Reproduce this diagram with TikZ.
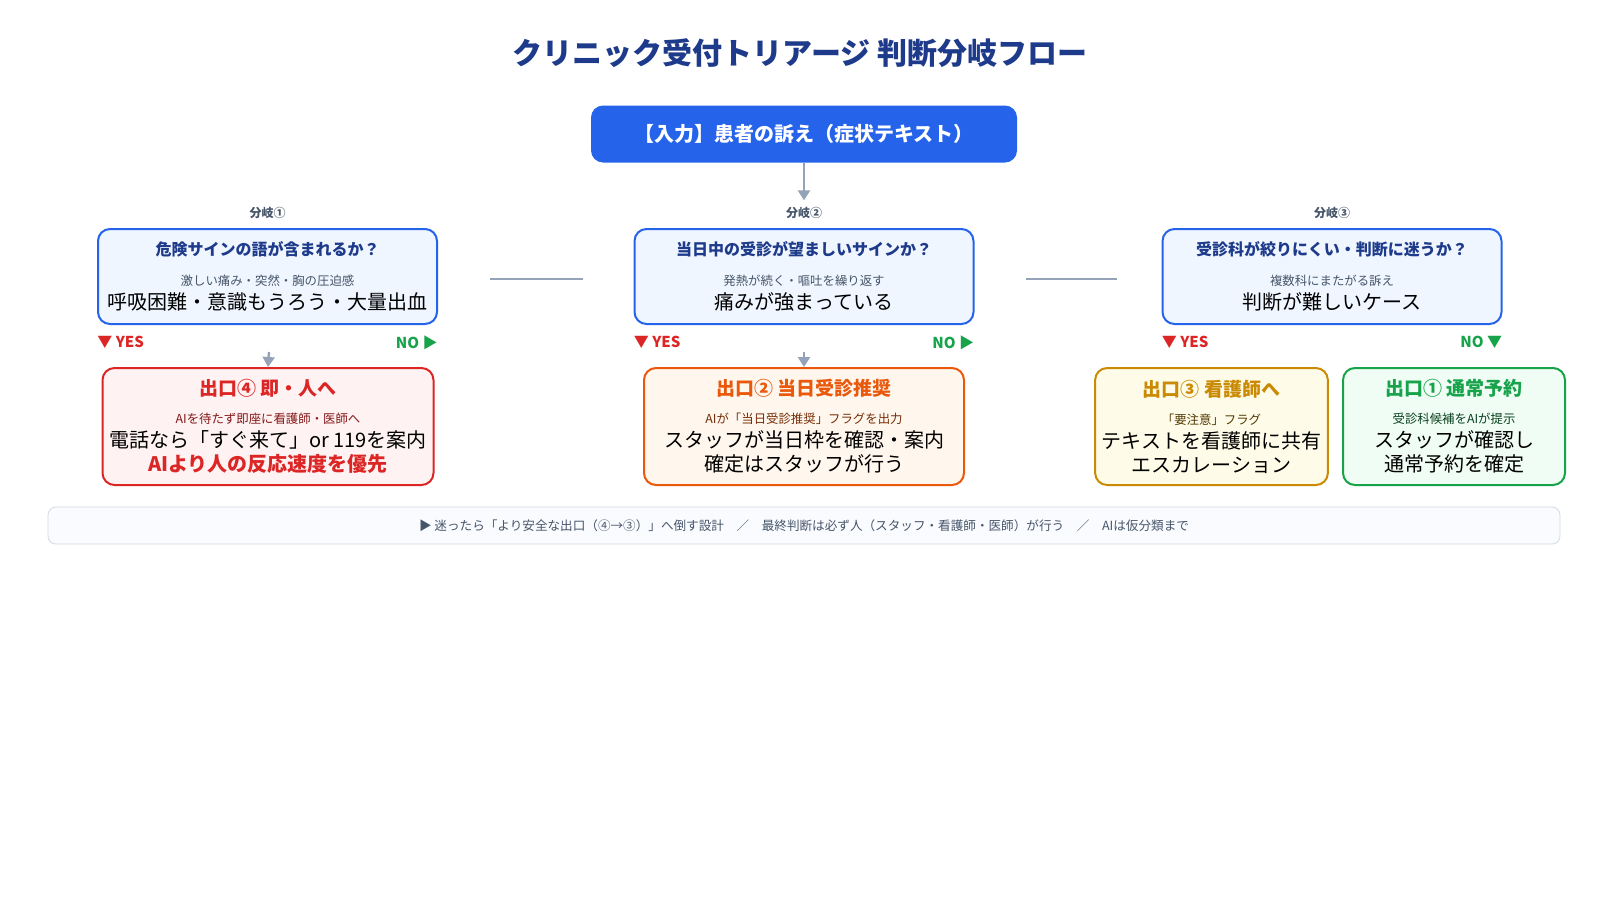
\documentclass[tikz,border=0pt]{standalone}
\usepackage{fontspec}
\setmainfont{Noto Sans CJK JP}
\usetikzlibrary{positioning,arrows.meta}
\definecolor{kBlue}{HTML}{2563EB}
\definecolor{kBlueBg}{HTML}{EFF6FF}
\definecolor{kNavy}{HTML}{1E3A8A}
\definecolor{kGrey}{HTML}{94A3B8}
\definecolor{kText}{HTML}{475569}
\definecolor{kRed}{HTML}{DC2626}
\definecolor{kRedBg}{HTML}{FEF2F2}
\definecolor{kOrange}{HTML}{EA580C}
\definecolor{kOrangeBg}{HTML}{FFF7ED}
\definecolor{kAmber}{HTML}{CA8A04}
\definecolor{kAmberBg}{HTML}{FEFCE8}
\definecolor{kGreen}{HTML}{16A34A}
\definecolor{kGreenBg}{HTML}{F0FDF4}
\tikzset{
  branch/.style={draw=kBlue,fill=kBlueBg,line width=1pt,rounded corners=6pt,
    minimum width=169.5pt,minimum height=47.5pt,align=center},
  exit/.style={line width=1pt,rounded corners=6pt,minimum height=58.5pt,align=center},
  tag/.style={font=\fontsize{6}{7}\selectfont\bfseries,text=kText},
  link/.style={draw=kGrey,line width=1.2pt},
  flow/.style={link,-{Triangle[length=5pt,width=6pt]}},
  yes/.style={font=\fontsize{7.5}{9}\selectfont\bfseries,text=kRed},
  no/.style={font=\fontsize{7.5}{9}\selectfont\bfseries,text=kGreen}
}
\newcommand{\qtext}[2]{\fontsize{8}{10}\selectfont\bfseries\color{kNavy}#1\\[3pt]\fontsize{6.2}{9}\selectfont\mdseries\color{kText}#2}
\newcommand{\etext}[4]{\fontsize{9.5}{12}\selectfont\bfseries\color{#1}#2\\[2pt]\fontsize{6.2}{9.5}\selectfont\mdseries\color{#3}#4}
\begin{document}
\begin{tikzpicture}[x=0.5pt,y=-0.5pt]
  \useasboundingbox[fill=white] (0,0) rectangle (1600,900);

  % title and input
  \node[font=\fontsize{15}{18}\selectfont\bfseries,text=kNavy] (title) at (800,53) {クリニック受付トリアージ 判断分岐フロー};
  \node[fill=kBlue,rounded corners=6pt,minimum width=213pt,minimum height=28.5pt,
        text=white,font=\fontsize{10}{12}\selectfont\bfseries] (input) at (804,134) {【入力】患者の訴え（症状テキスト）};

  % branches
  \node[branch] (b1) at (267.5,276.5) {\qtext{危険サインの語が含まれるか？}{激しい痛み・突然・胸の圧迫感\\呼吸困難・意識もうろう・大量出血}};
  \node[branch] (b2) at (804,276.5) {\qtext{当日中の受診が望ましいサインか？}{発熱が続く・嘔吐を繰り返す\\痛みが強まっている}};
  \node[branch] (b3) at (1332,276.5) {\qtext{受診科が絞りにくい・判断に迷うか？}{複数科にまたがる訴え\\判断が難しいケース}};
  \node[tag,above=1pt of b1] (t1) {分岐①};
  \node[tag,above=1pt of b2] (t2) {分岐②};
  \node[tag,above=1pt of b3] (t3) {分岐③};
  \draw[flow] (input) -- (t2);

  % yes / no
  \foreach \b in {b1,b2,b3} {
    \node[yes,anchor=north west,inner xsep=0pt] (\b y) at ([yshift=-2pt]\b.south west) {▼ YES};
  }
  \node[no,anchor=north east,inner xsep=0pt] (b1n) at ([yshift=-2pt]b1.south east) {NO ▶};
  \node[no,anchor=north east,inner xsep=0pt] (b2n) at ([yshift=-2pt]b2.south east) {NO ▶};
  \node[no,anchor=north east,inner xsep=0pt] (b3n) at ([yshift=-2pt]b3.south east) {NO ▼};

  % horizontal links
  \coordinate (h1a) at (490,279); \coordinate (h1b) at (583,279);
  \coordinate (h2a) at (1026,279); \coordinate (h2b) at (1117,279);
  \draw[link] (h1a) -- (h1b);
  \draw[link] (h2a) -- (h2b);

  % exits
  \node[exit,draw=kRed,fill=kRedBg,minimum width=159pt] (e4) at (268,426.5)
    {\etext{kRed}{出口④ 即・人へ}{kRed!60!black}{AIを待たず即座に看護師・医師へ\\電話なら「すぐ来て」or 119を案内\\\bfseries\color{kRed}AIより人の反応速度を優先}};
  \node[exit,draw=kOrange,fill=kOrangeBg,minimum width=160pt] (e2) at (804,426.5)
    {\etext{kOrange}{出口② 当日受診推奨}{kOrange!50!black}{AIが「当日受診推奨」フラグを出力\\スタッフが当日枠を確認・案内\\確定はスタッフが行う}};
  \node[exit,draw=kAmber,fill=kAmberBg,minimum width=109.5pt] (e3) at (1211.5,426.5)
    {\etext{kAmber}{出口③ 看護師へ}{kAmber!40!black}{「要注意」フラグ\\テキストを看護師に共有\\エスカレーション}};
  \node[exit,draw=kGreen,fill=kGreenBg,minimum width=111pt] (e1) at (1454,426.5)
    {\etext{kGreen}{出口① 通常予約}{kGreen!40!black}{受診科候補をAIが提示\\スタッフが確認し\\通常予約を確定}};
  \coordinate (d1) at (269,352);
  \coordinate (d2) at (804,352);
  \draw[flow] (d1) -- (e4.north);
  \draw[flow] (d2) -- (e2.north);

  % footer
  \node[draw=kGrey!40,fill=kBlueBg!40,rounded corners=4pt,minimum width=756pt,minimum height=18.5pt,
        text=kText,font=\fontsize{6.3}{8}\selectfont] (foot) at (804,525.5)
    {▶ 迷ったら「より安全な出口（④→③）」へ倒す設計　／　最終判断は必ず人（スタッフ・看護師・医師）が行う　／　AIは仮分類まで};
\end{tikzpicture}
\end{document}
